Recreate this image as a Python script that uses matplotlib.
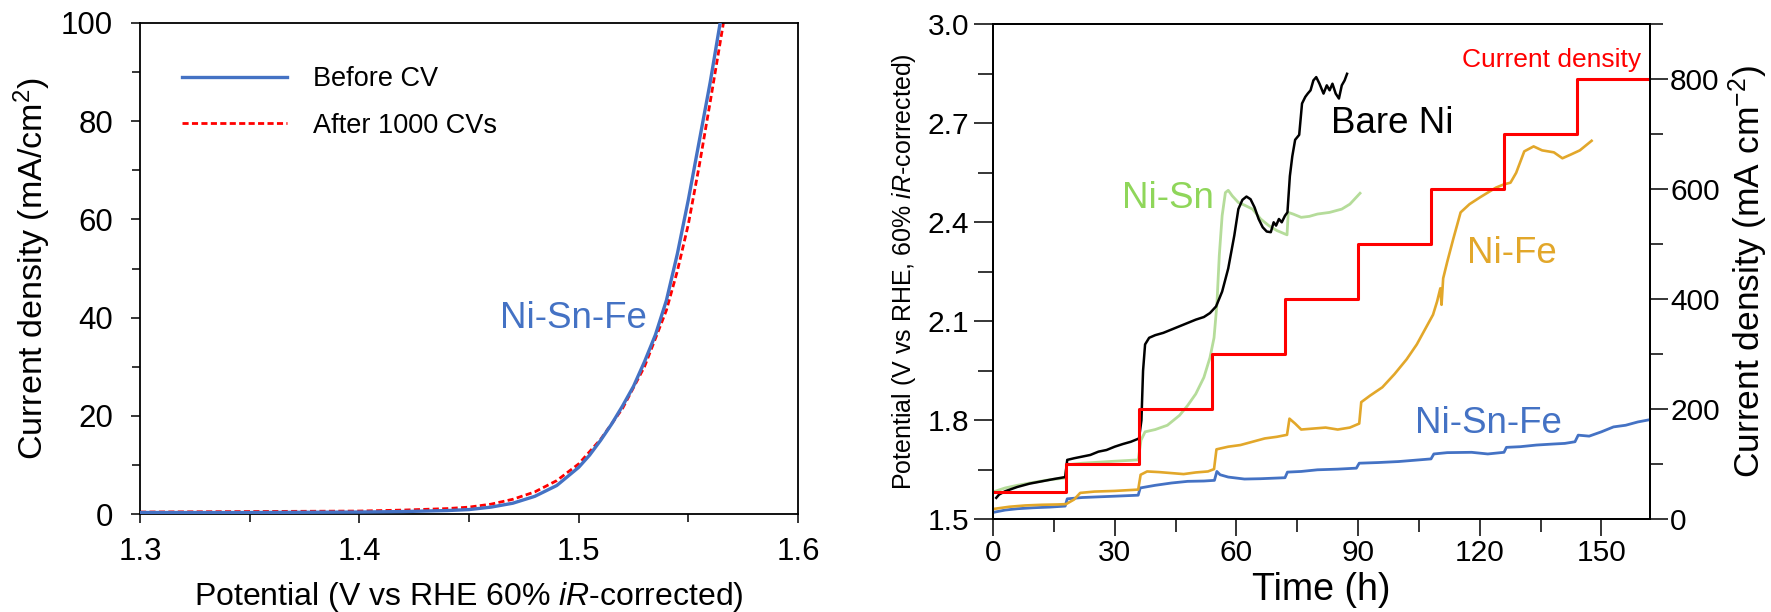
import matplotlib
matplotlib.use("Agg")
import matplotlib.pyplot as plt
from matplotlib.ticker import MultipleLocator, FormatStrFormatter
from matplotlib.transforms import IdentityTransform

plt.rcParams['font.family'] = ['Liberation Sans', 'DejaVu Sans']
plt.rcParams['mathtext.fontset'] = 'custom'
plt.rcParams['mathtext.rm'] = 'Liberation Sans'
plt.rcParams['mathtext.it'] = 'Liberation Sans:italic'
plt.rcParams['mathtext.default'] = 'regular'

# ---------------- Left panel: LSV ----------------
pot_before = [1.30, 1.35, 1.40, 1.42, 1.44, 1.45, 1.46, 1.47, 1.48, 1.49, 1.50, 1.505,
              1.51, 1.515, 1.52, 1.525, 1.53, 1.535, 1.54, 1.545, 1.55, 1.555, 1.56, 1.5645]
cur_before = [0.3, 0.3, 0.4, 0.5, 0.7, 0.9, 1.4, 2.2, 3.6, 5.8, 9.5, 12.0,
              15.0, 18.3, 22.0, 26.0, 31.0, 36.5, 43.5, 53.0, 64.0, 76.0, 88.0, 100.0]
pot_after = [1.30, 1.35, 1.40, 1.42, 1.44, 1.45, 1.46, 1.47, 1.48, 1.49, 1.50, 1.51,
             1.52, 1.53, 1.54, 1.545, 1.55, 1.555, 1.56, 1.566]
cur_after = [0.4, 0.5, 0.6, 0.8, 1.1, 1.4, 2.0, 3.0, 4.5, 6.8, 10.2, 15.2,
             21.5, 30.0, 41.5, 49.5, 59.0, 71.0, 84.0, 100.0]

# ---------------- Right panel: stability ----------------
step_time = [0, 18, 36, 54, 72, 90, 108, 126, 144, 162]
step_current = [50, 100, 200, 300, 400, 500, 600, 700, 800, 800]

bare_t = [0.8, 1.5, 3, 6, 9, 12, 15, 17.8, 18.3, 20, 22, 24, 26, 28, 30, 32, 34, 36, 36.6, 37,
          37.5, 38.5, 40, 42, 44, 46, 48, 50, 52, 53.5, 55, 56.5, 58, 59.5, 60.5, 61.5, 62.5,
          63.5, 64.5, 65.5, 66.5, 67.5, 68.5, 69.2, 69.8, 70.5, 71.2, 72, 72.6, 73.2, 73.8,
          74.5, 75.5, 76.2, 77, 77.6, 78.3, 79, 79.7, 80.5, 81.5, 82.3, 83, 83.7, 84.5, 85.3,
          86, 86.7, 87.3]
bare_v = [1.565, 1.575, 1.585, 1.598, 1.608, 1.615, 1.622, 1.628, 1.68, 1.685, 1.69, 1.695,
          1.705, 1.71, 1.72, 1.728, 1.735, 1.745, 1.80, 1.95, 2.03, 2.05, 2.058, 2.065, 2.075,
          2.085, 2.095, 2.105, 2.113, 2.125, 2.145, 2.19, 2.26, 2.36, 2.44, 2.468, 2.478, 2.47,
          2.445, 2.41, 2.385, 2.372, 2.37, 2.40, 2.39, 2.41, 2.40, 2.42, 2.43, 2.54, 2.60,
          2.65, 2.665, 2.76, 2.78, 2.79, 2.80, 2.83, 2.84, 2.82, 2.79, 2.815, 2.80, 2.82, 2.79,
          2.775, 2.815, 2.83, 2.85]

nisn_t = [0.5, 3, 6, 10, 14, 17.8, 18.2, 22, 26, 30, 35.8, 36.5, 37.5, 40, 43, 46, 48, 50, 52,
          53.5, 54.5, 55.2, 55.8, 56.5, 57.3, 58, 59, 60.5, 62, 64, 66, 68, 70, 72.5, 72.8, 74,
          76, 78, 80, 83, 86, 88, 90.5]
nisn_v = [1.585, 1.595, 1.603, 1.612, 1.62, 1.625, 1.665, 1.67, 1.673, 1.676, 1.68, 1.74,
          1.765, 1.772, 1.785, 1.815, 1.845, 1.88, 1.93, 1.99, 2.05, 2.15, 2.30, 2.42, 2.49,
          2.497, 2.48, 2.46, 2.452, 2.44, 2.41, 2.39, 2.375, 2.362, 2.43, 2.425, 2.415, 2.418,
          2.425, 2.43, 2.44, 2.455, 2.488]

nife_t = [0.5, 4, 8, 12, 16, 18, 20, 21.5, 25, 30, 35.8, 36.4, 38, 41, 44, 47, 50, 53, 54.5,
          55.1, 58, 61, 64, 67, 70, 72.5, 73.1, 74.5, 76, 79, 82, 85, 88, 90.3, 90.8, 93, 96,
          99, 102, 104.5, 106.5, 108.5, 109.5, 110.3, 110.6, 111, 112, 113.5, 115.3, 117.5,
          120, 122, 124, 126, 127.6, 129, 131, 133.3, 135.4, 138.3, 140.4, 142.6, 144.7, 147.6]
nife_v = [1.532, 1.538, 1.542, 1.544, 1.545, 1.546, 1.56, 1.58, 1.584, 1.586, 1.59, 1.635,
          1.645, 1.643, 1.64, 1.637, 1.642, 1.645, 1.652, 1.712, 1.72, 1.725, 1.735, 1.745,
          1.75, 1.756, 1.805, 1.79, 1.772, 1.775, 1.778, 1.772, 1.778, 1.79, 1.855, 1.875,
          1.90, 1.94, 1.985, 2.03, 2.075, 2.12, 2.16, 2.20, 2.15, 2.23, 2.28, 2.35, 2.43,
          2.455, 2.475, 2.49, 2.505, 2.515, 2.52, 2.55, 2.615, 2.63, 2.618, 2.612, 2.594,
          2.606, 2.618, 2.647]

nisnfe_t = [0.5, 3, 6, 10, 14, 17.8, 18.3, 22, 26, 30, 35.8, 36.3, 40, 44, 48, 52, 54.6, 55.2,
            56, 58, 62, 66, 70, 72, 72.6, 76, 80, 85, 89.6, 90.3, 95, 100, 105, 108, 108.7,
            112, 118, 122, 126, 126.6, 130, 134, 138, 141, 143.5, 144.3, 147, 150, 153, 156,
            159, 162]
nisnfe_v = [1.522, 1.528, 1.532, 1.535, 1.537, 1.54, 1.562, 1.566, 1.568, 1.57, 1.573, 1.595,
            1.603, 1.61, 1.615, 1.616, 1.618, 1.645, 1.635, 1.628, 1.622, 1.623, 1.625, 1.626,
            1.643, 1.645, 1.65, 1.652, 1.655, 1.67, 1.672, 1.675, 1.68, 1.683, 1.698, 1.702,
            1.703, 1.698, 1.703, 1.718, 1.72, 1.725, 1.728, 1.73, 1.735, 1.755, 1.752, 1.765,
            1.78, 1.785, 1.795, 1.802]

BLUE = '#4472C4'
RED = '#FF0000'
GREEN_LINE = '#B5DC9A'
GREEN_TEXT = '#8FD65A'
ORANGE = '#E2A72A'

fig = plt.figure(figsize=(17.71, 6.12), dpi=100)

# ---------- left ----------
ax1 = fig.add_axes([140/1771, (612-514)/612, 658/1771, 491/612])
ax1.plot(pot_before, cur_before, color=BLUE, lw=2.4, label='Before CV', zorder=3)
ax1.plot(pot_after, cur_after, color=RED, lw=2.0, ls=(0, (2.2, 1.2)), label='After 1000 CVs', zorder=2)
ax1.set_xlim(1.3, 1.6)
ax1.set_ylim(0, 100)
ax1.xaxis.set_major_locator(MultipleLocator(0.1))
ax1.xaxis.set_minor_locator(MultipleLocator(0.05))
ax1.yaxis.set_major_locator(MultipleLocator(20))
ax1.yaxis.set_minor_locator(MultipleLocator(10))
ax1.tick_params(which='major', direction='out', length=6.5, width=1.1, labelsize=22.5)
ax1.tick_params(which='minor', direction='out', length=6.0, width=1.1)
ax1.tick_params(axis='y', which='major', pad=13)
ax1.tick_params(axis='x', which='major', pad=10)
ax1.xaxis.set_major_formatter(FormatStrFormatter('%.1f'))
for s in ax1.spines.values():
    s.set_linewidth(1.3)
ax1.set_ylabel('Current density (mA/cm$^2$)', fontsize=24.5, va='center')
ax1.yaxis.set_label_coords(-0.163, 0.5)
ax1.set_xlabel('Potential (V vs RHE 60% $\\mathit{iR}$-corrected)', fontsize=23, va='center')
ax1.xaxis.set_label_coords(0.5, -0.169)
ax1.legend(loc='upper left', bbox_to_anchor=(0.0634, 0.912), frameon=False,
           fontsize=19.5, handlelength=3.9, handletextpad=0.95, labelspacing=0.75,
           borderpad=0, borderaxespad=0)
ax1.text(500, 612 - 318, 'Ni-Sn-Fe', color=BLUE, fontsize=26.5, ha='left', va='center',
         transform=IdentityTransform())

# ---------- right ----------
ax2 = fig.add_axes([993/1771, (612-519.3)/612, 657/1771, 495/612])
ax3 = ax2.twinx()
ax2.plot(nisnfe_t, nisnfe_v, color=BLUE, lw=2.0, zorder=3)
ax2.plot(nife_t, nife_v, color=ORANGE, lw=1.9, zorder=3)
ax2.plot(nisn_t, nisn_v, color=GREEN_LINE, lw=2.0, zorder=3)
ax2.plot(bare_t, bare_v, color='black', lw=1.8, zorder=4)
ax3.plot(step_time, step_current, color=RED, lw=2.2, drawstyle='steps-post')
ax2.set_xlim(0, 162)
ax2.set_ylim(1.5, 3.0)
ax3.set_ylim(0, 900)
ax2.xaxis.set_major_locator(MultipleLocator(30))
ax2.xaxis.set_minor_locator(MultipleLocator(15))
ax2.yaxis.set_major_locator(MultipleLocator(0.3))
ax2.yaxis.set_minor_locator(MultipleLocator(0.15))
ax3.yaxis.set_minor_locator(MultipleLocator(100))
ax3.set_yticks([0, 200, 400, 600, 800])
ax2.yaxis.set_major_formatter(FormatStrFormatter('%.1f'))
ax2.tick_params(axis='y', which='major', direction='out', length=14, width=1.1, labelsize=21.5, pad=3)
ax2.tick_params(axis='y', which='minor', direction='out', length=10.5, width=1.1)
ax2.tick_params(axis='x', which='major', direction='out', length=12, width=1.1, labelsize=21.5, pad=2)
ax2.tick_params(axis='x', which='minor', direction='out', length=9.5, width=1.1)
ax3.tick_params(axis='y', which='major', direction='out', length=13, width=1.1, labelsize=21.5, pad=1.5)
ax3.tick_params(axis='y', which='minor', direction='out', length=9.5, width=1.1)
for a in (ax2, ax3):
    for s in a.spines.values():
        s.set_linewidth(1.3)
ax2.set_ylabel('Potential (V vs RHE, 60% $\\mathit{iR}$-corrected)', fontsize=18, va='center')
ax2.yaxis.set_label_coords(-0.1355, 0.5)
ax3.set_ylabel('Current density (mA cm$^{-2}$)', fontsize=25.5, va='center', rotation=90)
ax3.yaxis.set_label_coords(1.149, 0.5)
ax2.set_xlabel('Time (h)', fontsize=27, va='center')
ax2.xaxis.set_label_coords(0.5, -0.143)

ax2.text(83.3, 2.70, 'Bare Ni', color='black', fontsize=26.5, ha='left', va='center')
ax2.text(31.8, 2.471, 'Ni-Sn', color=GREEN_TEXT, fontsize=26.5, ha='left', va='center')
ax2.text(116.8, 2.304, 'Ni-Fe', color=ORANGE, fontsize=26.5, ha='left', va='center')
ax2.text(104.0, 1.789, 'Ni-Sn-Fe', color=BLUE, fontsize=26.5, ha='left', va='center')
ax3.text(159.8, 835, 'Current density', color=RED, fontsize=19, ha='right', va='center')

fig.savefig('out.png', dpi=100)
